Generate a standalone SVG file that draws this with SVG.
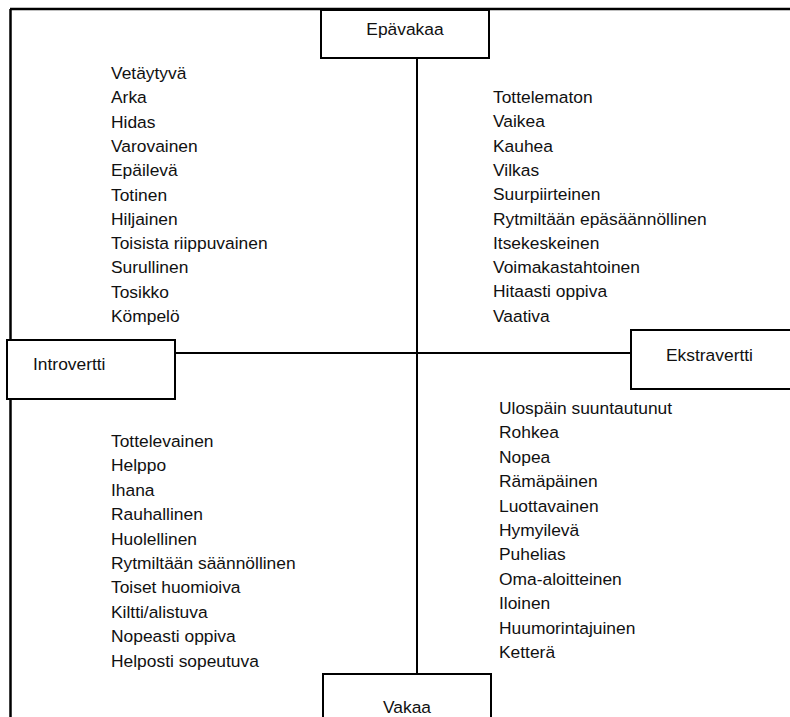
<svg xmlns="http://www.w3.org/2000/svg" width="790" height="717" viewBox="0 0 790 717">
  <style>
    .frame { fill: none; stroke: #000; stroke-width: 2.5; }
    .box { fill: #fff; stroke: #000; stroke-width: 2; }
    .axis { fill: none; stroke: #000; stroke-width: 2; }
    text { font-family: "Liberation Sans", Arial, sans-serif; font-size: 17.4px; fill: #111; }
  </style>
  <rect width="790" height="717" fill="#fff"/>

  <!-- outer frame: top and left edges -->
  <g id="frame">
    <line class="frame" x1="10" y1="9" x2="790" y2="9"/>
    <line class="frame" x1="10.5" y1="9" x2="10.5" y2="340"/>
    <line class="frame" x1="10.5" y1="399" x2="10.5" y2="717"/>
  </g>

  <!-- axes joining the four pole boxes -->
  <g id="connectors">
    <line class="axis" x1="417" y1="58" x2="417" y2="674"/>
    <line class="axis" x1="175" y1="353" x2="631" y2="353"/>
  </g>

  <g id="epavakaa">
    <rect class="box" x="321" y="10" width="168" height="48"/>
    <text x="405" y="35" text-anchor="middle">Epävakaa</text>
  </g>

  <g id="introvertti">
    <rect class="box" x="7" y="340" width="168" height="59"/>
    <text x="33" y="370">Introvertti</text>
  </g>

  <g id="ekstravertti">
    <rect class="box" x="631" y="330" width="170" height="59"/>
    <text x="666" y="361">Ekstravertti</text>
  </g>

  <g id="vakaa">
    <rect class="box" x="323" y="674" width="168" height="50"/>
    <text x="407" y="713" text-anchor="middle">Vakaa</text>
  </g>

  <!-- quadrant word lists -->
  <g id="introvertti-epavakaa">
    <text x="111" y="79">Vetäytyvä</text>
    <text x="111" y="103.3">Arka</text>
    <text x="111" y="127.6">Hidas</text>
    <text x="111" y="151.9">Varovainen</text>
    <text x="111" y="176.2">Epäilevä</text>
    <text x="111" y="200.5">Totinen</text>
    <text x="111" y="224.8">Hiljainen</text>
    <text x="111" y="249.1">Toisista riippuvainen</text>
    <text x="111" y="273.4">Surullinen</text>
    <text x="111" y="297.7">Tosikko</text>
    <text x="111" y="322">Kömpelö</text>
  </g>

  <g id="ekstravertti-epavakaa">
    <text x="493" y="103">Tottelematon</text>
    <text x="493" y="127.3">Vaikea</text>
    <text x="493" y="151.6">Kauhea</text>
    <text x="493" y="175.9">Vilkas</text>
    <text x="493" y="200.2">Suurpiirteinen</text>
    <text x="493" y="224.5">Rytmiltään epäsäännöllinen</text>
    <text x="493" y="248.8">Itsekeskeinen</text>
    <text x="493" y="273.1">Voimakastahtoinen</text>
    <text x="493" y="297.4">Hitaasti oppiva</text>
    <text x="493" y="321.7">Vaativa</text>
  </g>

  <g id="introvertti-vakaa">
    <text x="111" y="447">Tottelevainen</text>
    <text x="111" y="471.4">Helppo</text>
    <text x="111" y="495.8">Ihana</text>
    <text x="111" y="520.2">Rauhallinen</text>
    <text x="111" y="544.6">Huolellinen</text>
    <text x="111" y="569">Rytmiltään säännöllinen</text>
    <text x="111" y="593.4">Toiset huomioiva</text>
    <text x="111" y="617.8">Kiltti/alistuva</text>
    <text x="111" y="642.2">Nopeasti oppiva</text>
    <text x="111" y="666.6">Helposti sopeutuva</text>
  </g>

  <g id="ekstravertti-vakaa">
    <text x="499" y="414">Ulospäin suuntautunut</text>
    <text x="499" y="438.4">Rohkea</text>
    <text x="499" y="462.8">Nopea</text>
    <text x="499" y="487.2">Rämäpäinen</text>
    <text x="499" y="511.6">Luottavainen</text>
    <text x="499" y="536">Hymyilevä</text>
    <text x="499" y="560.4">Puhelias</text>
    <text x="499" y="584.8">Oma-aloitteinen</text>
    <text x="499" y="609.2">Iloinen</text>
    <text x="499" y="633.6">Huumorintajuinen</text>
    <text x="499" y="658">Ketterä</text>
  </g>
</svg>
